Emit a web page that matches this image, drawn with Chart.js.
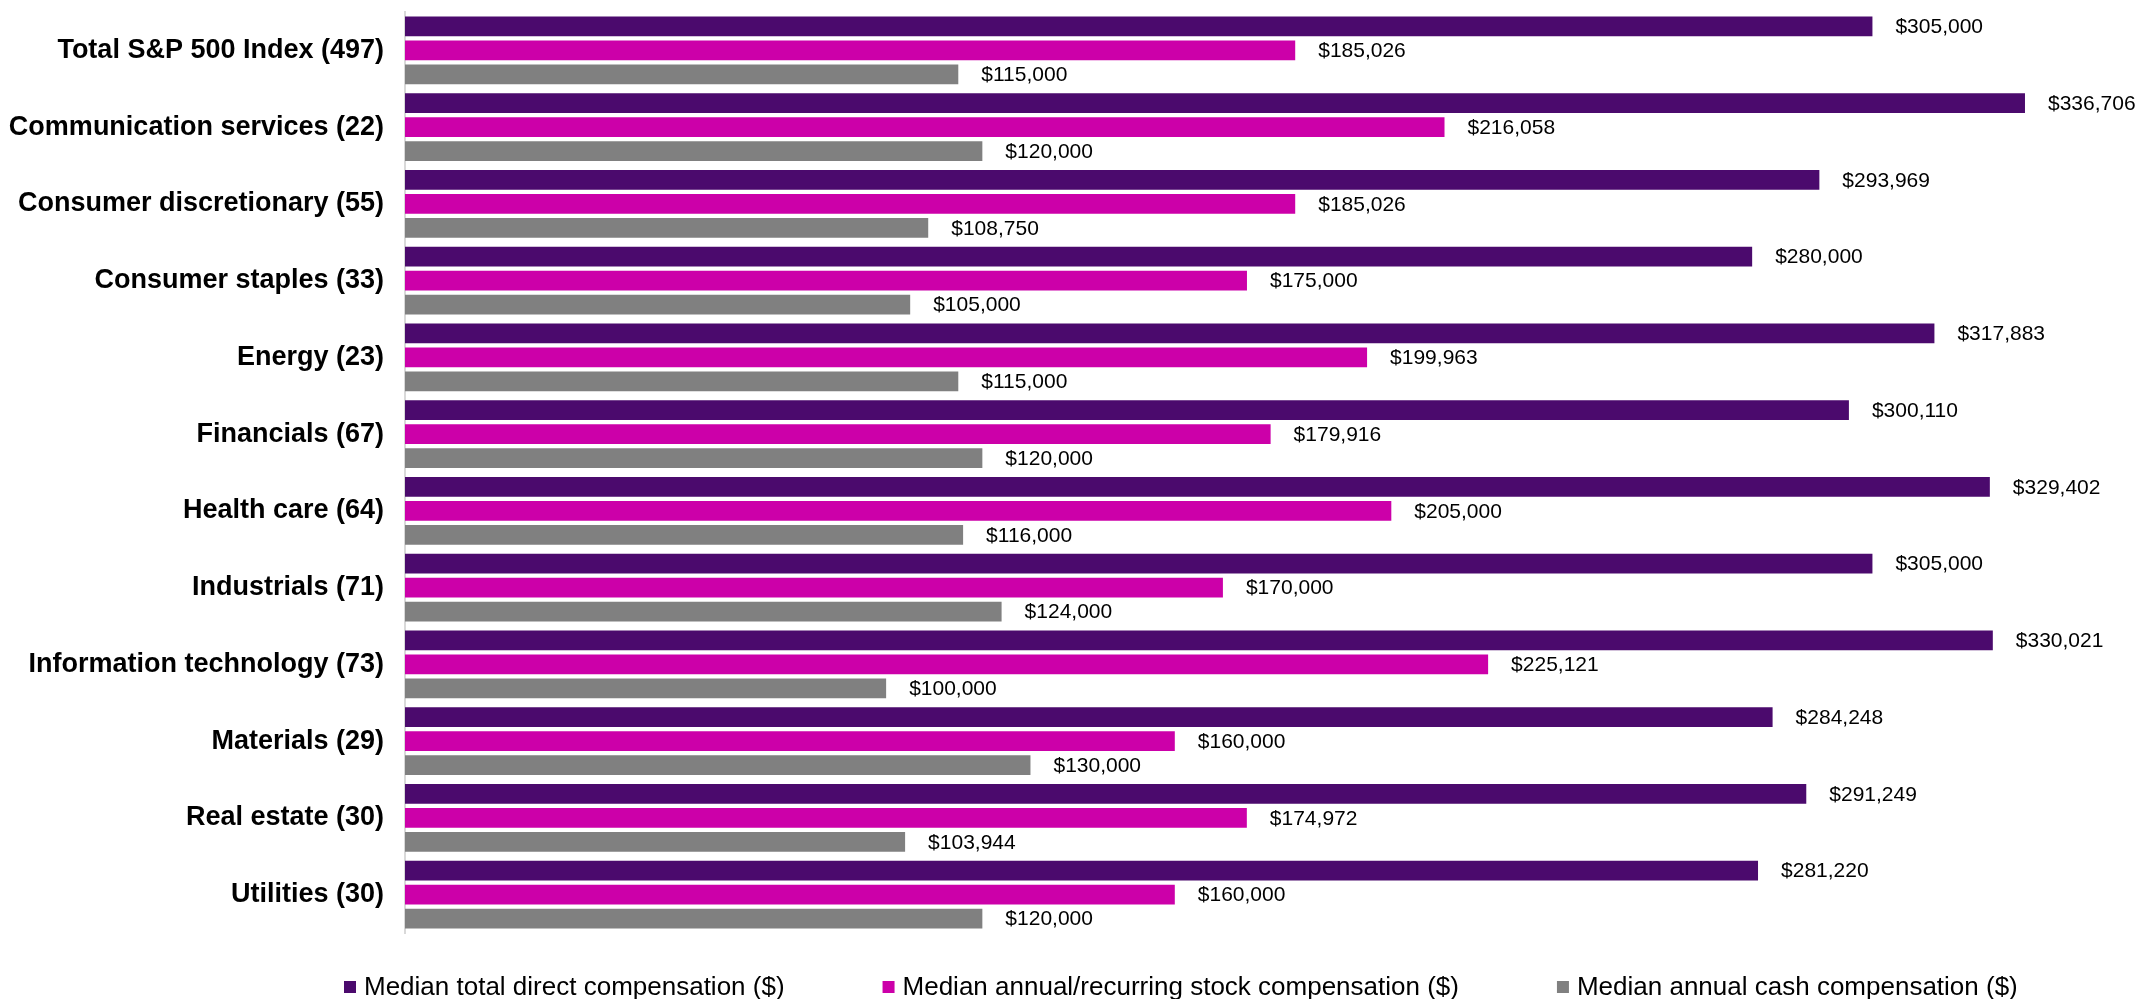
<!DOCTYPE html>
<html>
<head>
<meta charset="utf-8">
<script src="https://cdn.jsdelivr.net/npm/chart.js@4.4.0/dist/chart.umd.min.js"></script>
<style>
  html, body { margin: 0; padding: 0; background: #fff; }
  #wrap { width: 2141px; height: 999px; }
</style>
</head>
<body>
<div id="wrap"><canvas id="compChart" width="2141" height="999"></canvas></div>
<script>
// Setores (categorias)
const sectors = [
  'Total S&P 500 Index (497)',
  'Communication services (22)',
  'Consumer discretionary (55)',
  'Consumer staples (33)',
  'Energy (23)',
  'Financials (67)',
  'Health care (64)',
  'Industrials (71)',
  'Information technology (73)',
  'Materials (29)',
  'Real estate (30)',
  'Utilities (30)'
];

// Séries
const totalDirect = [305000, 336706, 293969, 280000, 317883, 300110, 329402, 305000, 330021, 284248, 291249, 281220];
const stockComp = [185026, 216058, 185026, 175000, 199963, 179916, 205000, 170000, 225121, 160000, 174972, 160000];
const cashComp = [115000, 120000, 108750, 105000, 115000, 120000, 116000, 124000, 100000, 130000, 103944, 120000];

const seriesNames = [
  'Median total direct compensation ($)',
  'Median annual/recurring stock compensation ($)',
  'Median annual cash compensation ($)'
];
const seriesColors = ['#4b0a6d', '#cc00a9', '#808080'];

const fontFamily = '"Liberation Sans", Arial, sans-serif';

// Rótulos de valor na ponta de cada barra
const valueLabels = {
  id: 'valueLabels',
  afterDatasetsDraw(chart) {
    const ctx = chart.ctx;
    ctx.save();
    ctx.font = '21px ' + fontFamily;
    ctx.fillStyle = '#000';
    ctx.textAlign = 'left';
    ctx.textBaseline = 'middle';
    chart.data.datasets.forEach((ds, di) => {
      chart.getDatasetMeta(di).data.forEach((bar, i) => {
        const txt = '$' + ds.data[i].toLocaleString('en-US');
        ctx.fillText(txt, bar.x + 23, bar.y + 1);
      });
    });
    ctx.restore();
  }
};

// Legenda desenhada à mão (espaçamento largo entre itens)
const bottomLegend = {
  id: 'bottomLegend',
  afterDraw(chart) {
    const ctx = chart.ctx;
    const y = 987;
    const box = 12;
    const gap = 98;
    ctx.save();
    ctx.font = '26px ' + fontFamily;
    ctx.textBaseline = 'middle';
    ctx.textAlign = 'left';
    let x = 344;
    chart.data.datasets.forEach((ds) => {
      ctx.fillStyle = ds.backgroundColor;
      ctx.fillRect(x, y - box / 2, box, box);
      ctx.fillStyle = '#000';
      ctx.fillText(ds.label, x + box + 8, y + 1);
      x += box + 8 + ctx.measureText(ds.label).width + gap;
    });
    ctx.restore();
  }
};

const ctx1 = document.getElementById('compChart').getContext('2d');
new Chart(ctx1, {
  type: 'bar',
  data: {
    labels: sectors,
    datasets: [
      { label: seriesNames[0], data: totalDirect, backgroundColor: seriesColors[0] },
      { label: seriesNames[1], data: stockComp, backgroundColor: seriesColors[1] },
      { label: seriesNames[2], data: cashComp, backgroundColor: seriesColors[2] }
    ]
  },
  options: {
    indexAxis: 'y',
    responsive: false,
    animation: false,
    devicePixelRatio: 1,
    categoryPercentage: 0.938,
    barPercentage: 0.833,
    layout: {
      padding: { top: 12, bottom: 66, left: 0, right: 28 }
    },
    scales: {
      x: {
        display: false,
        min: 0,
        max: 355000
      },
      y: {
        afterFit(scale) {
          scale.width = 405;
          scale.paddingTop = 0;
          scale.paddingBottom = 0;
        },
        grid: { display: false, drawTicks: false },
        border: { display: true, color: '#d9d9d9', width: 2 },
        ticks: {
          padding: 21,
          color: '#000',
          font: { family: fontFamily, size: 27, weight: 'bold' }
        }
      }
    },
    plugins: {
      legend: { display: false },
      tooltip: { enabled: false }
    }
  },
  plugins: [valueLabels, bottomLegend]
});
</script>
</body>
</html>
